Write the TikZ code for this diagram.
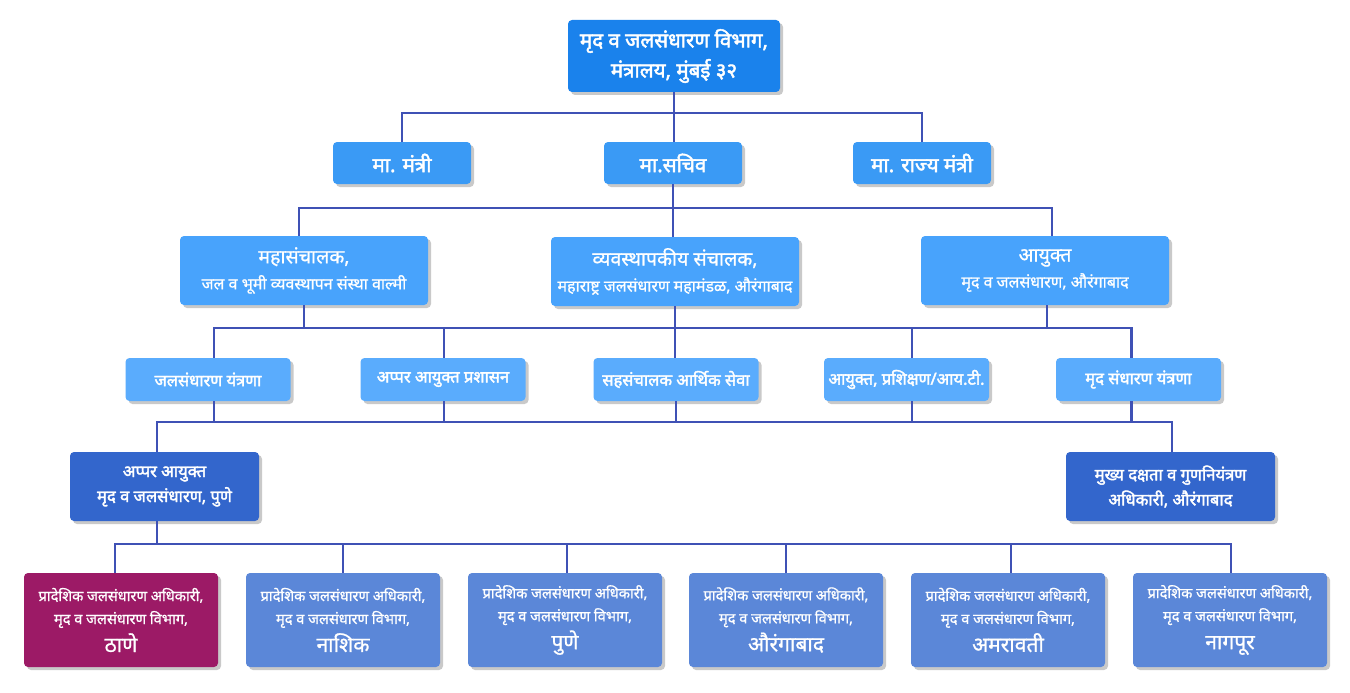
\documentclass[tikz,border=0pt]{standalone}
\usepackage{fontspec}
\setmainfont[Script=Devanagari, AutoFakeBold=2.2]{Noto Sans}
\newfontfamily\medfont[Script=Devanagari, FakeBold=0.9]{Noto Sans}
\usetikzlibrary{shadows}
\definecolor{ctop}{RGB}{26,130,236}
\definecolor{cl2}{RGB}{58,154,245}
\definecolor{cl3}{RGB}{72,163,252}
\definecolor{cl4}{RGB}{90,172,253}
\definecolor{cl5}{RGB}{51,102,204}
\definecolor{cbot}{RGB}{91,135,216}
\definecolor{cmar}{RGB}{156,26,102}
\definecolor{cline}{RGB}{63,81,181}
\tikzset{
  box/.style={draw=none, rounded corners=4pt, text=white, align=center, inner sep=1pt,
    drop shadow={shadow xshift=3pt, shadow yshift=-3pt, opacity=0.35, fill=black!60}},
  conn/.style={draw=cline, line width=2.1pt},
}
\newcommand{\cityname}[1]{{\bfseries\fontsize{21}{30}\selectfont #1}}
\newcommand{\rtitle}[1]{{\bfseries\fontsize{19.5}{26}\selectfont #1}}
\begin{document}
\begin{tikzpicture}[x=1pt,y=-1pt]
\useasboundingbox[fill=white] (0,0) rectangle (1350,693);
% top
\node[box, fill=ctop, minimum width=212, minimum height=72, font=\bfseries\fontsize{20.5}{30}\selectfont] (top) at (674,56) {मृद व जलसंधारण विभाग,\\मंत्रालय, मुंबई ३२};
% level 2
\begin{scope}[every node/.append style={box, fill=cl2, minimum width=138, minimum height=42, font=\bfseries\fontsize{20.5}{22}\selectfont}]
\node (mantri) at (402,163) {मा. मंत्री};
\node (sachiv) at (673,163) {मा.सचिव};
\node (rajya) at (922,163) {मा. राज्य मंत्री};
\end{scope}
% level 3
\begin{scope}[every node/.append style={box, fill=cl3, minimum width=248, minimum height=69, font=\medfont\fontsize{16}{26}\selectfont}]
\node (maha) at (304,270.5) {\rtitle{महासंचालक,}\\जल व भूमी व्यवस्थापन संस्था वाल्मी};
\node (vyav) at (675,271.5) {\rtitle{व्यवस्थापकीय संचालक,}\\महाराष्ट्र जलसंधारण महामंडळ, औरंगाबाद};
\node (ayukta) at (1045,270.5) {\rtitle{आयुक्त}\\मृद व जलसंधारण, औरंगाबाद};
\end{scope}
% level 4
\begin{scope}[every node/.append style={box, fill=cl4, minimum width=165, minimum height=43, font=\bfseries\fontsize{16.5}{20}\selectfont}]
\node (l4a) at (208,379.5) {जलसंधारण यंत्रणा};
\node (l4b) at (443,379.5) {अप्पर आयुक्त प्रशासन};
\node (l4c) at (676,379.5) {सहसंचालक आर्थिक सेवा};
\node (l4d) at (906.5,379.5) {आयुक्त, प्रशिक्षण/आय.टी.};
\node (l4e) at (1138.5,379.5) {मृद संधारण यंत्रणा};
\end{scope}
% level 5
\begin{scope}[every node/.append style={box, fill=cl5, minimum height=69, font=\bfseries\fontsize{16.6}{25}\selectfont}]
\node[minimum width=189] (appar) at (164.5,486.5) {अप्पर आयुक्त\\मृद व जलसंधारण, पुणे};
\node[minimum width=209] (mukhya) at (1170.5,486.5) {मुख्य दक्षता व गुणनियंत्रण\\अधिकारी, औरंगाबाद};
\end{scope}
% bottom
\begin{scope}[every node/.append style={box, fill=cbot, minimum width=194, minimum height=94, font=\medfont\fontsize{14.6}{23}\selectfont}]
\node[fill=cmar] (b1) at (121,620) {प्रादेशिक जलसंधारण अधिकारी,\\मृद व जलसंधारण विभाग,\\[5pt]\cityname{ठाणे}};
\node (b2) at (343,620) {प्रादेशिक जलसंधारण अधिकारी,\\मृद व जलसंधारण विभाग,\\[5pt]\cityname{नाशिक}};
\node (b3) at (565,620) {प्रादेशिक जलसंधारण अधिकारी,\\मृद व जलसंधारण विभाग,\\[5pt]\cityname{पुणे}};
\node (b4) at (786,620) {प्रादेशिक जलसंधारण अधिकारी,\\मृद व जलसंधारण विभाग,\\[5pt]\cityname{औरंगाबाद}};
\node (b5) at (1008,620) {प्रादेशिक जलसंधारण अधिकारी,\\मृद व जलसंधारण विभाग,\\[5pt]\cityname{अमरावती}};
\node (b6) at (1230,620) {प्रादेशिक जलसंधारण अधिकारी,\\मृद व जलसंधारण विभाग,\\[5pt]\cityname{नागपूर}};
\end{scope}
% bus coordinates
\coordinate (y1) at (0,113);
\coordinate (y2) at (0,208);
\coordinate (y3) at (0,328);
\coordinate (y4) at (0,422);
\coordinate (y5) at (0,544);
% connectors level 1-2
\draw[conn] (top.south) -- (top.south |- sachiv.north);
\draw[conn] (mantri.north) |- (rajya.north |- y1) -- (rajya.north);
% level 2-3
\draw[conn] (sachiv.south) -- (sachiv.south |- vyav.north);
\draw[conn] ([xshift=-5pt]maha.north) |- ([xshift=7pt]ayukta.north |- y2) -- ([xshift=7pt]ayukta.north);
% level 3-4
\draw[conn] (maha.south) -- (maha.south |- y3);
\draw[conn] (vyav.south) -- (vyav.south |- l4c.north);
\draw[conn] ([xshift=2pt]ayukta.south) -- ([xshift=2pt]ayukta.south |- y3);
\draw[conn] ([xshift=6pt]l4a.north) |- ([xshift=-7pt]l4e.north |- y3) -- ([xshift=-7pt]l4e.north);
\draw[conn] ([xshift=1pt]l4b.north) -- ([xshift=1pt]l4b.north |- y3);
\draw[conn] ([xshift=5.5pt]l4d.north) -- ([xshift=5.5pt]l4d.north |- y3);
% level 4-5
\draw[conn] ([xshift=6pt]l4a.south) -- ([xshift=6pt]l4a.south |- y4);
\draw[conn] ([xshift=1pt]l4b.south) -- ([xshift=1pt]l4b.south |- y4);
\draw[conn] (l4c.south) -- (l4c.south |- y4);
\draw[conn] ([xshift=5.5pt]l4d.south) -- ([xshift=5.5pt]l4d.south |- y4);
\draw[conn] ([xshift=-7pt]l4e.south) -- ([xshift=-7pt]l4e.south |- y4);
\draw[conn] ([xshift=-7.5pt]appar.north) |- ([xshift=1.5pt]mukhya.north |- y4) -- ([xshift=1.5pt]mukhya.north);
% level 5-6
\draw[conn] ([xshift=-7.5pt]appar.south) -- ([xshift=-7.5pt]appar.south |- y5);
\draw[conn] ([xshift=-6pt]b1.north) |- ([xshift=1pt]b6.north |- y5) -- ([xshift=1pt]b6.north);
\draw[conn] (b2.north) -- (b2.north |- y5);
\draw[conn] ([xshift=2pt]b3.north) -- ([xshift=2pt]b3.north |- y5);
\draw[conn] (b4.north) -- (b4.north |- y5);
\draw[conn] ([xshift=3pt]b5.north) -- ([xshift=3pt]b5.north |- y5);
\end{tikzpicture}
\end{document}
